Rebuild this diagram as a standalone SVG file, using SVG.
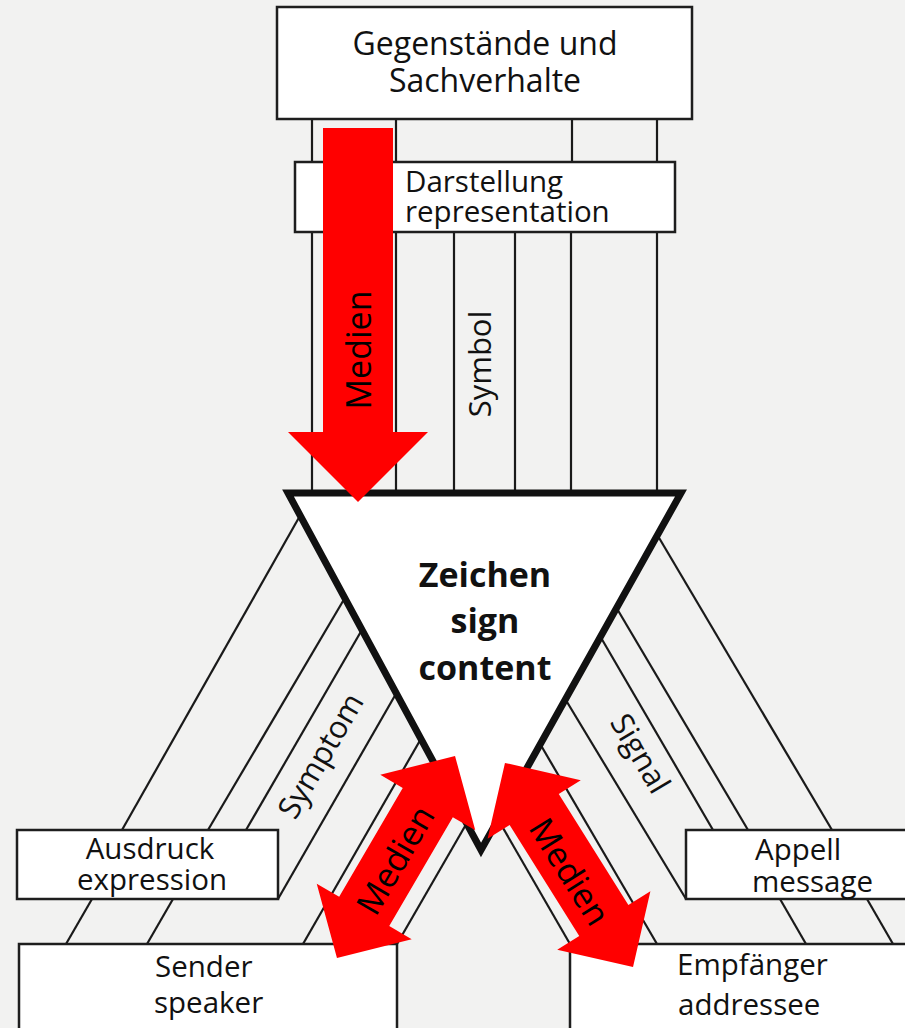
<svg xmlns="http://www.w3.org/2000/svg" width="905" height="1028" viewBox="0 0 905 1028">
<defs>
<style>
.bg{fill:#f2f2f1}
.box{fill:#fff;stroke:#1e1e1e;stroke-width:2.5}
.ln{stroke:#1a1a1a;stroke-width:2.2;fill:none}
.t{font-family:"Open Sans","Liberation Sans",sans-serif;fill:#111}
.lbl{font-size:29.5px}
.rot{font-size:31px}
.big{font-size:32px}
.bold{font-family:"Open Sans","Liberation Sans",sans-serif;font-weight:bold;font-size:34px;fill:#111;text-anchor:middle}
.arrow{fill:#ff0000}
.med{font-family:"Open Sans","Liberation Sans",sans-serif;font-size:34px;fill:#000;text-anchor:middle}
</style>
</defs>
<rect class="bg" x="0" y="0" width="905" height="1028"/>

<g id="connectors">
  <line class="ln" x1="312" y1="119" x2="312" y2="162"/>
  <line class="ln" x1="396" y1="119" x2="396" y2="162"/>
  <line class="ln" x1="572" y1="119" x2="572" y2="162"/>
  <line class="ln" x1="657" y1="119" x2="657" y2="162"/>
  <line class="ln" x1="312" y1="232" x2="312" y2="495"/>
  <line class="ln" x1="396" y1="232" x2="396" y2="495"/>
  <line class="ln" x1="454" y1="232" x2="454" y2="495"/>
  <line class="ln" x1="515" y1="232" x2="515" y2="495"/>
  <line class="ln" x1="571" y1="232" x2="571" y2="495"/>
  <line class="ln" x1="657" y1="232" x2="657" y2="495"/>
  <line class="ln" x1="301" y1="514" x2="122" y2="830"/>
  <line class="ln" x1="92" y1="899" x2="66" y2="944"/>
  <line class="ln" x1="346" y1="596" x2="208" y2="830"/>
  <line class="ln" x1="173" y1="899" x2="147" y2="944"/>
  <line class="ln" x1="363" y1="628" x2="246" y2="830"/>
  <line class="ln" x1="397" y1="692" x2="278" y2="899"/>
  <line class="ln" x1="422" y1="737" x2="303" y2="944"/>
  <line class="ln" x1="468" y1="821" x2="397" y2="944"/>
  <line class="ln" x1="655" y1="531" x2="832" y2="830"/>
  <line class="ln" x1="867" y1="899" x2="893" y2="944"/>
  <line class="ln" x1="616" y1="607" x2="748" y2="830"/>
  <line class="ln" x1="780" y1="899" x2="806" y2="944"/>
  <line class="ln" x1="600" y1="636" x2="713" y2="830"/>
  <line class="ln" x1="564" y1="697" x2="686" y2="899"/>
  <line class="ln" x1="539" y1="742" x2="657" y2="944"/>
  <line class="ln" x1="499" y1="821" x2="570" y2="944"/>
</g>

<g id="gegenstaende">
  <rect class="box" x="277" y="7" width="415" height="112"/>
  <text class="t big" x="485" y="55" text-anchor="middle">Gegenstände und</text>
  <text class="t big" x="485" y="92" text-anchor="middle">Sachverhalte</text>
</g>

<g id="darstellung">
  <rect class="box" x="295" y="162" width="380" height="70"/>
  <text class="t lbl" x="405" y="192">Darstellung</text>
  <text class="t lbl" x="405" y="222">representation</text>
</g>

<g id="ausdruck">
  <rect class="box" x="17" y="830" width="261" height="69"/>
  <text class="t lbl" x="150" y="859" text-anchor="middle">Ausdruck</text>
  <text class="t lbl" x="152" y="890" text-anchor="middle">expression</text>
</g>

<g id="appell">
  <rect class="box" x="686" y="830" width="260" height="69"/>
  <text class="t lbl" x="755" y="860">Appell</text>
  <text class="t lbl" x="752" y="892">message</text>
</g>

<g id="sender">
  <rect class="box" x="19" y="944" width="378" height="100"/>
  <text class="t lbl" x="155" y="977">Sender</text>
  <text class="t lbl" x="154" y="1013">speaker</text>
</g>

<g id="empfaenger">
  <rect class="box" x="570" y="944" width="360" height="100"/>
  <text class="t lbl" x="677" y="975">Empfänger</text>
  <text class="t lbl" x="678" y="1015">addressee</text>
</g>

<g id="zeichen">
  <polygon points="288,493 681,493 481,850" fill="#fff" stroke="#111" stroke-width="7" stroke-linejoin="miter"/>
  <text class="bold" x="485" y="587">Zeichen</text>
  <text class="bold" x="485" y="633">sign</text>
  <text class="bold" x="485" y="680">content</text>
</g>

<g id="labels">
  <text class="t rot" text-anchor="middle" transform="translate(491,364) rotate(-90)">Symbol</text>
  <text class="t rot" text-anchor="middle" transform="translate(330,761) rotate(-59.9)">Symptom</text>
  <text class="t rot" text-anchor="middle" transform="translate(631,759) rotate(59.5)">Signal</text>
</g>

<g id="medien-top">
  <polygon class="arrow" points="323,128 393,128 393,432 428,432 358,502 288,432 323,432"/>
  <text class="med" transform="translate(371,350) rotate(-90)">Medien</text>
</g>

<g id="medien-left" transform="translate(396,857) rotate(-59.7)">
  <polygon class="arrow" points="117,0 63,-55 63,-29 -63,-29 -63,-55 -117,0 -63,55 -63,29 63,29 63,55"/>
  <text class="med" x="-3" y="13">Medien</text>
</g>

<g id="medien-right" transform="translate(569,865) rotate(57.9)">
  <polygon class="arrow" points="120.5,0 65.5,-55 65.5,-29 -65.5,-29 -65.5,-55 -120.5,0 -65.5,55 -65.5,29 65.5,29 65.5,55"/>
  <text class="med" x="6" y="15">Medien</text>
</g>
</svg>
